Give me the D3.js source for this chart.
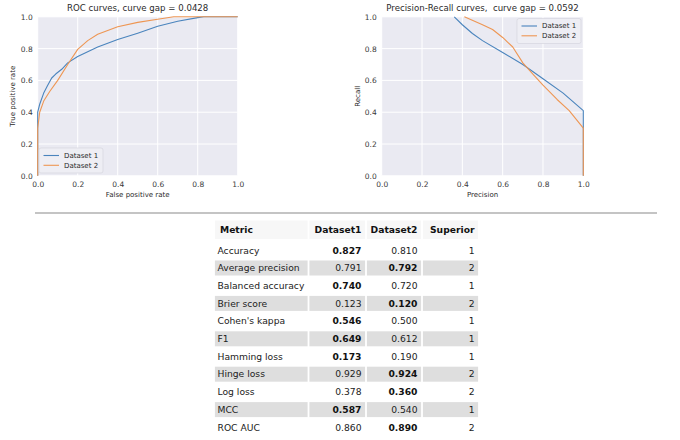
<!DOCTYPE html>
<html>
<head>
<meta charset="utf-8">
<script src="https://cdn.jsdelivr.net/npm/d3@7"></script>
<style>
  body { margin: 0; background: #fff; }
  text { font-family: "DejaVu Sans", sans-serif; white-space: pre; }
</style>
</head>
<body>
<div id="chart"></div>
<script>
/* DATA */
const ticks = [0, 0.2, 0.4, 0.6, 0.8, 1.0];
const seriesNames = ["Dataset 1", "Dataset 2"];

// ROC curves: [false positive rate, true positive rate]
const roc1 = [[0,0],[0,0.30],[0,0.40],[0.01,0.45],[0.03,0.52],[0.05,0.57],[0.07,0.615],[0.09,0.64],
  [0.12,0.67],[0.15,0.71],[0.2,0.75],[0.3,0.81],[0.4,0.857],[0.5,0.897],[0.6,0.94],
  [0.7,0.972],[0.8,0.995],[0.83,1.0],[1.0,1.0]];
const roc2 = [[0,0],[0,0.30],[0.01,0.40],[0.03,0.47],[0.06,0.53],[0.1,0.60],[0.15,0.70],
  [0.2,0.795],[0.25,0.85],[0.3,0.89],[0.4,0.937],[0.5,0.965],[0.6,0.985],[0.68,1.0],[1.0,1.0]];

// Precision-Recall curves: [precision, recall]
const pr1 = [[0.36,1.0],[0.4,0.95],[0.45,0.895],[0.5,0.85],[0.6,0.775],[0.7,0.70],
  [0.8,0.61],[0.9,0.52],[1.0,0.41],[1.0,0]];
const pr2 = [[0.41,1.0],[0.5,0.95],[0.55,0.92],[0.6,0.87],[0.65,0.81],[0.7,0.71],
  [0.75,0.64],[0.8,0.57],[0.87,0.48],[0.93,0.41],[1.0,0.30],[1.0,0]];

// table
const headers = ["Metric", "Dataset1", "Dataset2", "Superior"];
const metrics = ["Accuracy", "Average precision", "Balanced accuracy", "Brier score",
  "Cohen's kappa", "F1", "Hamming loss", "Hinge loss", "Log loss", "MCC", "ROC AUC"];
const dataset1 = [0.827, 0.791, 0.740, 0.123, 0.546, 0.649, 0.173, 0.929, 0.378, 0.587, 0.860];
const dataset2 = [0.810, 0.792, 0.720, 0.120, 0.500, 0.612, 0.190, 0.924, 0.360, 0.540, 0.890];
const superior = [1, 2, 1, 2, 1, 1, 1, 2, 2, 1, 2];

/* CONFIG */
const W = 680, H = 440;
const colors = ["#4a84bd", "#ee9653"];

const svg = d3.select("#chart").append("svg")
  .attr("width", W).attr("height", H);

/* PLOTS */
function drawPlot(opt) {
  const x = d3.scaleLinear().domain([0, 1]).range([opt.left, opt.right]);
  const y = d3.scaleLinear().domain([0, 1]).range([opt.bottom, opt.top]);
  const g = svg.append("g");

  g.append("rect")
    .attr("x", x(0)).attr("y", y(1))
    .attr("width", x(1) - x(0)).attr("height", y(0) - y(1))
    .attr("fill", "#eaeaf2");

  // grid
  g.selectAll(".gx").data(ticks).enter().append("line")
    .attr("x1", d => x(d)).attr("x2", d => x(d))
    .attr("y1", y(0)).attr("y2", y(1))
    .attr("stroke", "#fff").attr("stroke-width", 1);
  g.selectAll(".gy").data(ticks).enter().append("line")
    .attr("y1", d => y(d)).attr("y2", d => y(d))
    .attr("x1", x(0)).attr("x2", x(1))
    .attr("stroke", "#fff").attr("stroke-width", 1);

  // axes (labels only, no tick marks)
  const ax = g.append("g")
    .attr("transform", `translate(0,${y(0)})`)
    .call(d3.axisBottom(x).tickValues(ticks).tickFormat(d3.format(".1f")).tickSize(0).tickPadding(5.5));
  const ay = g.append("g")
    .attr("transform", `translate(${x(0)},0)`)
    .call(d3.axisLeft(y).tickValues(ticks).tickFormat(d3.format(".1f")).tickSize(0).tickPadding(5));
  [ax, ay].forEach(a => {
    a.select(".domain").remove();
    a.selectAll("text").attr("font-size", 7.5).attr("fill", "#3a3a3a")
      .attr("font-family", "DejaVu Sans");
  });

  // curves
  const line = d3.line().x(d => x(d[0])).y(d => y(d[1]));
  opt.series.forEach((s, i) => {
    g.append("path").datum(s)
      .attr("d", line)
      .attr("fill", "none")
      .attr("stroke", colors[i])
      .attr("stroke-width", 1.1)
      .attr("stroke-linejoin", "round");
  });

  // title + labels
  g.append("text")
    .attr("x", (x(0) + x(1)) / 2).attr("y", 11)
    .attr("text-anchor", "middle").attr("font-size", 8.6).attr("fill", "#2a2a2a")
    .text(opt.title);
  g.append("text")
    .attr("x", (x(0) + x(1)) / 2).attr("y", 197)
    .attr("text-anchor", "middle").attr("font-size", 7).attr("fill", "#2a2a2a")
    .text(opt.xlabel);
  g.append("text")
    .attr("transform", `translate(${opt.ylabelX},${(y(0) + y(1)) / 2}) rotate(-90)`)
    .attr("text-anchor", "middle").attr("font-size", 7).attr("fill", "#2a2a2a")
    .text(opt.ylabel);

  // legend
  const lg = g.append("g").attr("transform", `translate(${opt.legend[0]},${opt.legend[1]})`);
  lg.append("rect")
    .attr("width", 64).attr("height", 25).attr("rx", 2)
    .attr("fill", "#eeeef4").attr("stroke", "#d6d6de").attr("stroke-width", 0.7);
  seriesNames.forEach((name, i) => {
    const yy = 7.5 + i * 9.8;
    lg.append("line")
      .attr("x1", 4.5).attr("x2", 20).attr("y1", yy).attr("y2", yy)
      .attr("stroke", colors[i]).attr("stroke-width", 1.1);
    lg.append("text")
      .attr("x", 25).attr("y", yy).attr("dy", "0.35em")
      .attr("font-size", 7).attr("fill", "#2a2a2a")
      .text(name);
  });
}

drawPlot({
  left: 37.7, right: 237.7, top: 16.8, bottom: 175.8,
  series: [roc1, roc2],
  title: "ROC curves, curve gap = 0.0428",
  xlabel: "False positive rate", ylabel: "True positive rate", ylabelX: 14.5,
  legend: [39, 148]
});

drawPlot({
  left: 381.7, right: 583.3, top: 16.8, bottom: 175.8,
  series: [pr1, pr2],
  title: "Precision-Recall curves,  curve gap = 0.0592",
  xlabel: "Precision", ylabel: "Recall", ylabelX: 360,
  legend: [517, 18.5]
});

// separator
svg.append("line")
  .attr("x1", 35).attr("x2", 657).attr("y1", 213).attr("y2", 213)
  .attr("stroke", "#b0b0b0").attr("stroke-width", 1.3);

/* TABLE */
const colEdges = [214, 308.5, 366, 422, 479];
const colX = d3.scaleOrdinal().domain(headers).range(colEdges.slice(0, 4));
const colW = d3.scaleOrdinal().domain(headers).range(d3.pairs(colEdges).map(p => p[1] - p[0]));

const rowY = d3.scaleBand()
  .domain(d3.range(metrics.length))
  .range([241.5, 241.5 + 17.7 * metrics.length]);

const fmt = d3.format(".3f");
const tbl = svg.append("g");

// header
const hdr = tbl.selectAll(".hdr").data(headers).enter().append("g");
hdr.append("rect")
  .attr("x", d => colX(d) + 0.9).attr("y", 220.5)
  .attr("width", d => colW(d) - 1.8).attr("height", 18.5)
  .attr("fill", "#f7f7f7");
hdr.append("text")
  .attr("x", (d, i) => i === 0 ? colX(d) + 6 : colX(d) + colW(d) - 4.5)
  .attr("y", 230).attr("dy", "0.35em")
  .attr("text-anchor", (d, i) => i === 0 ? "start" : "end")
  .attr("font-size", 9.2).attr("font-weight", "bold").attr("fill", "#111")
  .text(d => d);

// rows
const rowData = metrics.map((m, i) => ({
  i, cells: [m, fmt(dataset1[i]), fmt(dataset2[i]), String(superior[i])],
  best: superior[i]
}));

const rows = tbl.selectAll(".row").data(rowData).enter().append("g")
  .attr("transform", d => `translate(0,${rowY(d.i)})`);

rows.filter(d => d.i % 2 === 1).selectAll("rect")
  .data(headers).enter().append("rect")
  .attr("x", d => colX(d) + 0.9).attr("y", 1.3)
  .attr("width", d => colW(d) - 1.8).attr("height", 15)
  .attr("fill", "#dedede");

rows.each(function(row) {
  d3.select(this).selectAll("text")
    .data(row.cells).enter().append("text")
    .attr("x", (d, j) => j === 0 ? colX(headers[j]) + 3.5 : colX(headers[j]) + colW(headers[j]) - 4.5)
    .attr("y", rowY.bandwidth() / 2).attr("dy", "0.35em")
    .attr("text-anchor", (d, j) => j === 0 ? "start" : "end")
    .attr("font-size", 9.2)
    .attr("font-weight", (d, j) => j === row.best ? "bold" : "normal")
    .attr("fill", (d, j) => j === row.best ? "#111" : "#222")
    .text(d => d);
});
</script>
</body>
</html>
